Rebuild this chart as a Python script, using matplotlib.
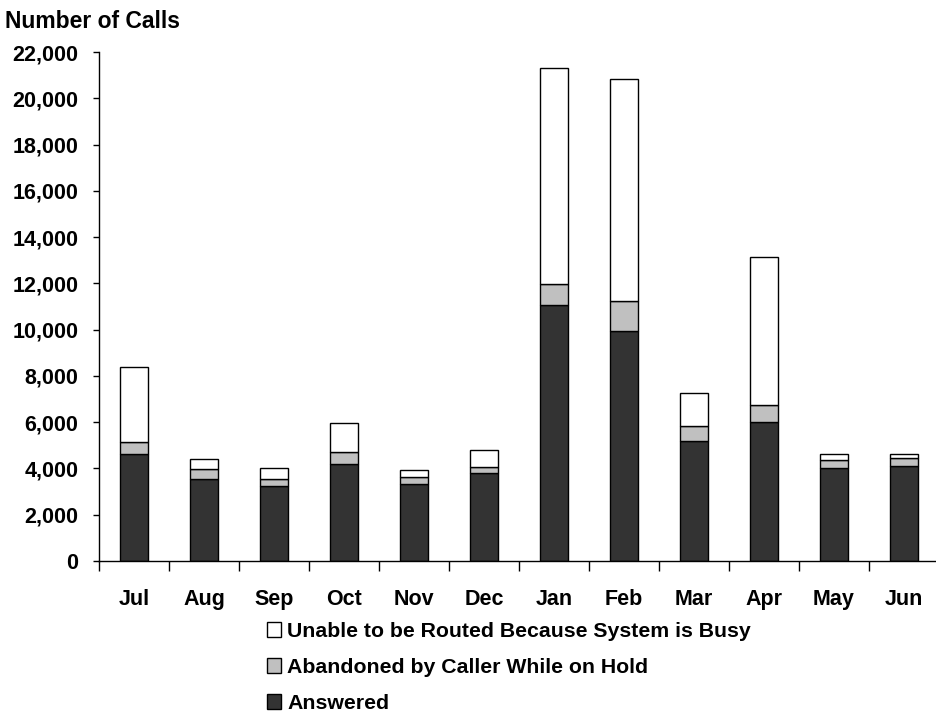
import numpy as np
import matplotlib.pyplot as plt
from matplotlib.patches import Patch

plt.rcParams['font.family'] = ['Liberation Sans', 'DejaVu Sans']
plt.rcParams['font.weight'] = 'bold'

# Data (stacked segments)
months = ["Jul", "Aug", "Sep", "Oct", "Nov", "Dec",
          "Jan", "Feb", "Mar", "Apr", "May", "Jun"]
answered = [4610, 3545, 3240, 4205, 3330, 3790,
            11050, 9925, 5185, 5995, 4020, 4120]
abandoned_top = [5155, 3960, 3545, 4700, 3630, 4075,
                 11960, 11250, 5850, 6755, 4350, 4440]
total = [8400, 4420, 4005, 5980, 3920, 4785,
         21290, 20815, 7260, 13150, 4610, 4640]

answered = np.array(answered)
abandoned = np.array(abandoned_top) - answered
busy = np.array(total) - np.array(abandoned_top)

fig = plt.figure(figsize=(9.37, 7.15), dpi=100)
ax = fig.add_axes([99 / 937, 1 - 561 / 715, 840 / 937, 509 / 715])

x = np.arange(len(months))
w = 0.41
ax.bar(x, answered, w, color="#333333", edgecolor="black", linewidth=1)
ax.bar(x, abandoned, w, bottom=answered, color="#c0c0c0", edgecolor="black", linewidth=1)
ax.bar(x, busy, w, bottom=answered + abandoned, color="white", edgecolor="black", linewidth=1)

ax.set_xlim(-0.5, len(months) - 0.5)
ax.set_ylim(0, 22000)
ax.set_yticks(np.arange(0, 22001, 2000))
ax.set_yticklabels([f"{v:,}" for v in range(0, 22001, 2000)])
ax.tick_params(axis="y", direction="out", length=4, width=1, pad=11, labelsize=15.5)

# category ticks between bars, labels centred on bars
ax.set_xticks(np.arange(-0.5, len(months), 1.0))
ax.set_xticklabels([])
ax.tick_params(axis="x", direction="out", length=7, width=1)
ax.set_xticks(x, minor=True)
ax.set_xticklabels(months, minor=True, fontsize=15.5, fontweight="bold")
ax.tick_params(axis="x", which="minor", length=0, pad=20)

for s in ["top", "right"]:
    ax.spines[s].set_visible(False)
ax.spines["left"].set_linewidth(1)
ax.spines["bottom"].set_linewidth(1)

fig.text(5 / 937, 1 - 22 / 715, "Number of Calls", fontsize=16.5, fontweight="bold",
         va="center", ha="left")

handles = [Patch(facecolor="white", edgecolor="black"),
           Patch(facecolor="#c0c0c0", edgecolor="black"),
           Patch(facecolor="#333333", edgecolor="black")]
labels = ["Unable to be Routed Because System is Busy",
          "Abandoned by Caller While on Hold",
          "Answered"]
fig.legend(handles, labels, loc="upper left", bbox_to_anchor=(267 / 937, 1 - 622 / 715),
           frameon=False, fontsize=15.3, handlelength=0.65, handleheight=0.65,
           handletextpad=0.3, labelspacing=0.8, borderaxespad=0, borderpad=0)

fig.savefig("out.png", dpi=100)
